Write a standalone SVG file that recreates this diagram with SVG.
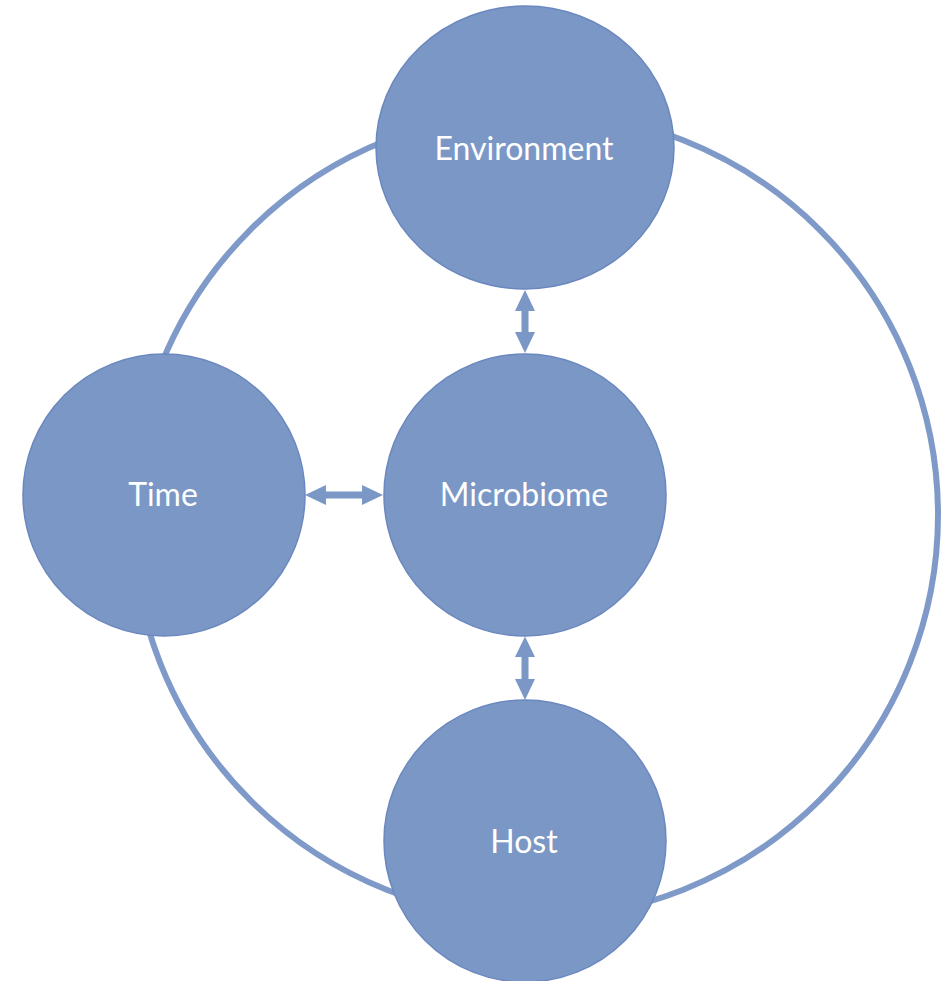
<svg xmlns="http://www.w3.org/2000/svg" width="952" height="981" viewBox="0 0 952 981">
<style>
.node { fill: #7b97c5; stroke: #6a88bf; stroke-width: 1.5; }
.label { font-family: Lato, "Open Sans", "Liberation Sans", sans-serif; font-size: 32px; fill: #ffffff; text-anchor: middle; }
.ring { fill: none; stroke: #7f9ac9; stroke-width: 6; }
.arrow { fill: #7b97c5; stroke: none; }
</style>
<rect width="952" height="981" fill="#ffffff"/>
<g id="connectors">
  <circle class="ring" cx="535" cy="515" r="403"/>
  <path class="arrow" d="M525,290 L535,311 L528.5,311 L528.5,332 L535,332 L525,353 L515,332 L521.5,332 L521.5,311 L515,311 Z"/>
  <path class="arrow" d="M525,636.5 L535,657 L528.5,657 L528.5,679 L535,679 L525,700 L515,679 L521.5,679 L521.5,657 L515,657 Z"/>
  <path class="arrow" d="M305,495 L326,485 L326,491.5 L362,491.5 L362,485 L383,495 L362,505 L362,498.5 L326,498.5 L326,505 Z"/>
</g>
<g id="environment">
  <ellipse class="node" cx="525" cy="147.5" rx="149" ry="141.5"/>
  <text class="label" x="524" y="160">Environment</text>
</g>
<g id="time">
  <circle class="node" cx="164" cy="495" r="141"/>
  <text class="label" x="163" y="506">Time</text>
</g>
<g id="microbiome">
  <circle class="node" cx="525" cy="495" r="141"/>
  <text class="label" x="524" y="506">Microbiome</text>
</g>
<g id="host">
  <circle class="node" cx="525" cy="841" r="141"/>
  <text class="label" x="524" y="853">Host</text>
</g>
</svg>
